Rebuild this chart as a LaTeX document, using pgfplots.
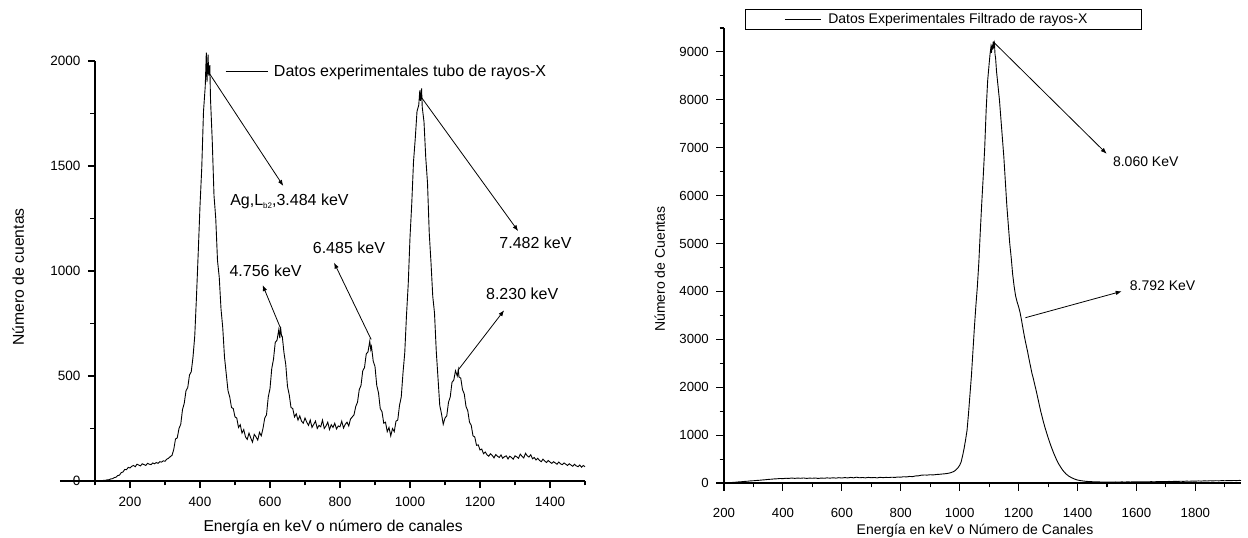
\documentclass[border=0pt]{standalone}
\usepackage{fontspec}
\setmainfont{Liberation Sans}
\usepackage{pgfplots}
\pgfplotsset{compat=1.18}
\usetikzlibrary{arrows.meta}
\pgfplotsset{
  common/.style={
    scale only axis, clip=false,
    axis x line*=bottom, axis y line*=left,
    axis line style={line width=1.4pt, -},
    tick align=outside,
    tick style={line width=1.1pt, black},
    /pgf/number format/assume math mode=true,
    /pgf/number format/1000 sep={},
    xticklabel style={inner sep=0pt},
    yticklabel style={inner sep=0pt},
  }
}
\begin{document}
\begin{tikzpicture}
\path[use as bounding box] (0pt,0pt) rectangle (1248pt,538pt);
% ---------------- left panel ----------------
\begin{axis}[common,
  at={(95pt,57pt)}, anchor=south west,
  width=490pt, height=420pt,
  xmin=100, xmax=1500, ymin=0, ymax=2000,
  xtick={200,400,...,1400}, minor xtick={100,300,...,1500},
  ytick={0,500,...,2000}, minor ytick={250,750,...,1750},
  major tick length=7pt, minor tick length=4.5pt,
  tick label style={font=\fontsize{13.5}{16}\selectfont},
  xticklabel shift=8.5pt, yticklabel shift=7.5pt,
  every axis x label/.style={at={(axis description cs:0.486,0)}, anchor=base, yshift=-51pt, font=\fontsize{15.7}{18}\selectfont},
  every axis y label/.style={at={(axis description cs:-0.157,0.486)}, anchor=center, rotate=90, font=\fontsize{15.7}{18}\selectfont},
  xlabel={Energía en keV o número de canales},
  ylabel={Número de cuentas},
  legend image code/.code={\draw[line width=0.8pt] (0pt,0pt) -- (42pt,0pt);},
  legend style={draw=none, fill=none, at={(rel axis cs:0.2653,0.976)}, anchor=west, inner sep=0pt, nodes={inner sep=0pt, font=\fontsize{16}{19}\selectfont}, column sep=6pt},
]
\addplot[black, line width=0.9pt] coordinates {
(100,0) (105,0) (110,1) (115,0) (120,2) (125,3) (130,3) (135,6) (140,6) (145,10)
(150,11) (155,16) (160,18) (165,26) (170,28) (175,40) (180,43) (185,55) (190,54) (195,65)
(200,62) (205,70) (210,74) (215,68) (220,80) (225,76) (230,72) (235,82) (240,78) (245,74)
(250,84) (255,80) (260,78) (265,86) (270,82) (275,88) (280,84) (285,92) (290,90) (295,96)
(300,94) (305,104) (310,108) (315,116) (320,122) (325,150) (330,200) (335,205) (340,250) (345,270)
(350,340) (355,370) (360,430) (365,445) (370,505) (375,520) (380,590) (385,690) (390,880) (395,1090)
(400,1310) (405,1490) (410,1760) (415,1880) (418,2040) (420,1900) (423,2030) (425,1930) (428,1980) (430,1820)
(435,1620) (440,1360) (445,1250) (450,1050) (455,970) (460,820) (465,730) (470,590) (475,510) (480,430)
(485,400) (490,350) (495,345) (500,305) (505,300) (510,255) (515,268) (520,228) (525,245) (530,210)
(535,198) (540,228) (545,205) (550,185) (555,222) (560,210) (565,195) (570,232) (575,215) (580,250)
(585,300) (590,315) (595,400) (600,440) (605,535) (610,580) (615,660) (620,670) (625,720) (628,680)
(630,735) (633,690) (635,690) (640,610) (645,555) (650,450) (655,410) (660,350) (665,345) (670,305)
(675,320) (680,290) (685,310) (690,285) (695,275) (700,300) (705,280) (710,265) (715,290) (720,255)
(725,270) (730,285) (735,250) (740,265) (745,258) (750,290) (755,250) (760,262) (765,280) (770,245)
(775,268) (780,255) (785,275) (790,248) (795,262) (800,258) (805,285) (810,252) (815,270) (820,280)
(825,262) (830,295) (835,305) (840,315) (845,355) (850,375) (855,435) (860,455) (865,525) (870,540)
(875,605) (880,615) (885,665) (888,625) (890,640) (895,570) (900,545) (905,455) (910,420) (915,345)
(920,330) (925,275) (930,280) (935,235) (940,255) (945,215) (950,250) (955,235) (960,285) (965,290)
(970,360) (975,400) (980,515) (985,610) (990,790) (995,940) (1000,1160) (1005,1320) (1010,1520) (1015,1630)
(1020,1760) (1025,1790) (1028,1860) (1030,1810) (1033,1870) (1035,1780) (1040,1710) (1045,1540) (1050,1420) (1055,1180)
(1060,1040) (1065,880) (1070,800) (1075,620) (1080,490) (1085,360) (1090,320) (1095,270) (1100,300) (1105,310)
(1110,375) (1115,400) (1120,470) (1125,480) (1130,525) (1135,500) (1138,530) (1140,495) (1145,490) (1150,435)
(1155,415) (1160,355) (1165,335) (1170,280) (1175,265) (1180,215) (1185,210) (1190,170) (1195,172) (1200,148)
(1205,152) (1210,130) (1215,138) (1220,125) (1225,118) (1230,130) (1235,122) (1240,110) (1245,126) (1250,118)
(1255,112) (1260,124) (1265,108) (1270,116) (1275,120) (1280,105) (1285,118) (1290,112) (1295,104) (1300,120)
(1305,115) (1310,108) (1315,128) (1320,118) (1325,110) (1330,132) (1335,120) (1340,114) (1345,125) (1350,106)
(1355,112) (1360,100) (1365,108) (1370,98) (1375,92) (1380,104) (1385,95) (1390,88) (1395,98) (1400,90)
(1405,84) (1410,92) (1415,86) (1420,80) (1425,90) (1430,82) (1435,78) (1440,86) (1445,80) (1450,74)
(1455,82) (1460,76) (1465,70) (1470,80) (1475,72) (1480,68) (1485,76) (1490,66) (1495,74) (1500,68)
};
\addlegendentry{Datos experimentales tubo de rayos-X}
\draw[line width=1.4pt] (axis cs:0,0) -- (axis cs:100,0);
\begin{scope}[line width=0.8pt, -{Latex[length=6pt,width=4.5pt]}]
\draw (axis cs:424,1948) -- (axis cs:638,1405);
\draw (axis cs:1033,1826) -- (axis cs:1309,1190);
\draw (axis cs:629,732) -- (axis cs:579,933);
\draw (axis cs:889,674) -- (axis cs:783,1040);
\draw (axis cs:1137,527) -- (axis cs:1269,813);
\end{scope}
\begin{scope}[every node/.style={anchor=base west, inner sep=0pt, font=\fontsize{16}{19}\selectfont}]
\node at (axis cs:486,1314) {Ag,L\raisebox{-3.5pt}{\fontsize{8}{9}\selectfont b2},3.484 keV};
\node at (axis cs:1255,1108) {7.482 keV};
\node at (axis cs:484,976) {4.756 keV};
\node at (axis cs:722,1081) {6.485 keV};
\node at (axis cs:1217,862) {8.230 keV};
\end{scope}
\end{axis}
% ---------------- right panel ----------------
\begin{axis}[common,
  at={(724pt,55pt)}, anchor=south west,
  width=517pt, height=455pt,
  xmin=200, xmax=1955, ymin=0, ymax=9500,
  xtick={200,400,...,1800}, minor xtick={300,500,...,1900},
  ytick={0,1000,...,9000}, minor ytick={500,1500,...,9500},
  major tick length=8pt, minor tick length=4.5pt,
  tick label style={font=\fontsize{13.2}{16}\selectfont},
  xticklabel shift=17pt, yticklabel shift=7pt,
  every axis x label/.style={at={(axis description cs:0.4855,0)}, anchor=base, yshift=-52pt, font=\fontsize{14}{17}\selectfont},
  every axis y label/.style={at={(axis description cs:-0.124,0.47)}, anchor=center, rotate=90, font=\fontsize{14}{17}\selectfont},
  xlabel={Energía en keV o Número de Canales},
  ylabel={Número de Cuentas},
  legend image code/.code={\path (-39pt,0pt); \draw[line width=0.8pt] (0pt,0pt) -- (36pt,0pt);},
  legend style={draw=black, line width=0.9pt, fill=white, at={(rel axis cs:0.0406,1.041)}, anchor=north west, inner xsep=0pt, inner ysep=4pt, nodes={inner sep=0pt, font=\fontsize{14}{17}\selectfont}, column sep=7pt},
]
\addplot[black, line width=0.9pt] coordinates {
(200,0) (210,4) (220,9) (230,12) (240,17) (250,23) (260,27) (270,33) (280,37) (290,44)
(300,47) (310,53) (320,57) (330,63) (340,68) (350,75) (360,79) (370,85) (380,88) (390,94)
(400,91) (410,99) (420,96) (430,104) (440,97) (450,103) (460,98) (470,105) (480,96) (490,102)
(500,99) (510,104) (520,95) (530,103) (540,99) (550,107) (560,101) (570,109) (580,102) (590,111)
(600,104) (610,113) (620,106) (630,117) (640,108) (650,121) (660,109) (670,115) (680,107) (690,117)
(700,110) (710,115) (720,107) (730,119) (740,112) (750,117) (760,114) (770,121) (780,116) (790,125)
(800,122) (810,131) (820,127) (830,137) (840,133) (850,147) (860,150) (870,163) (880,167) (890,165)
(900,173) (910,168) (920,177) (930,181) (940,187) (950,193) (960,201) (970,216) (980,240) (985,262)
(990,290) (995,325) (1000,370) (1005,440) (1010,570) (1015,720) (1020,900) (1025,1100) (1030,1450) (1035,1850)
(1040,2250) (1045,2750) (1050,3250) (1055,3700) (1060,4100) (1065,4600) (1070,5250) (1075,5850) (1080,6400) (1085,7000)
(1090,7800) (1095,8400) (1100,8750) (1103,8950) (1106,9100) (1108,8980) (1110,9150) (1112,9050) (1114,9220) (1116,9120)
(1118,9180) (1120,8950) (1122,8870) (1125,8600) (1130,8300) (1135,8000) (1140,7600) (1145,7200) (1150,6800) (1155,6300)
(1160,5800) (1165,5400) (1170,5000) (1175,4700) (1180,4350) (1185,4100) (1190,3900) (1195,3780) (1200,3680) (1205,3560)
(1210,3400) (1215,3220) (1220,3050) (1225,2900) (1230,2760) (1235,2600) (1240,2450) (1245,2300) (1250,2180) (1255,2050)
(1260,1920) (1265,1780) (1270,1640) (1275,1500) (1280,1380) (1285,1260) (1290,1150) (1295,1050) (1300,950) (1305,860)
(1310,770) (1315,690) (1320,610) (1325,540) (1330,470) (1335,410) (1340,360) (1345,310) (1350,265) (1360,195)
(1370,145) (1380,110) (1390,82) (1400,62) (1410,50) (1420,41) (1430,34) (1440,30) (1450,27) (1460,24)
(1470,23) (1480,21) (1490,20) (1500,19) (1510,21) (1520,18) (1530,22) (1540,19) (1550,23) (1560,20)
(1570,24) (1580,21) (1590,25) (1600,22) (1610,26) (1620,23) (1630,27) (1640,24) (1650,28) (1660,25)
(1670,29) (1680,27) (1690,31) (1700,28) (1710,33) (1720,30) (1730,35) (1740,32) (1750,37) (1760,34)
(1770,39) (1780,36) (1790,41) (1800,38) (1810,43) (1820,40) (1830,45) (1840,42) (1850,47) (1860,44)
(1870,48) (1880,45) (1890,50) (1900,47) (1910,51) (1920,48) (1930,53) (1940,50) (1950,54) (1955,52)
};
\addlegendentry{Datos Experimentales Filtrado de rayos-X\rule{54pt}{0pt}}
\begin{scope}[line width=0.8pt, -{Latex[length=6pt,width=4.5pt]}]
\draw (axis cs:1116,9200) -- (axis cs:1499,6874);
\draw (axis cs:1223,3451) -- (axis cs:1550,4002);
\end{scope}
\begin{scope}[every node/.style={anchor=base west, inner sep=0pt, font=\fontsize{14}{17}\selectfont}]
\node at (axis cs:1520,6604) {8.060 KeV};
\node at (axis cs:1577,4012) {8.792 KeV};
\end{scope}
\end{axis}
\end{tikzpicture}
\end{document}
